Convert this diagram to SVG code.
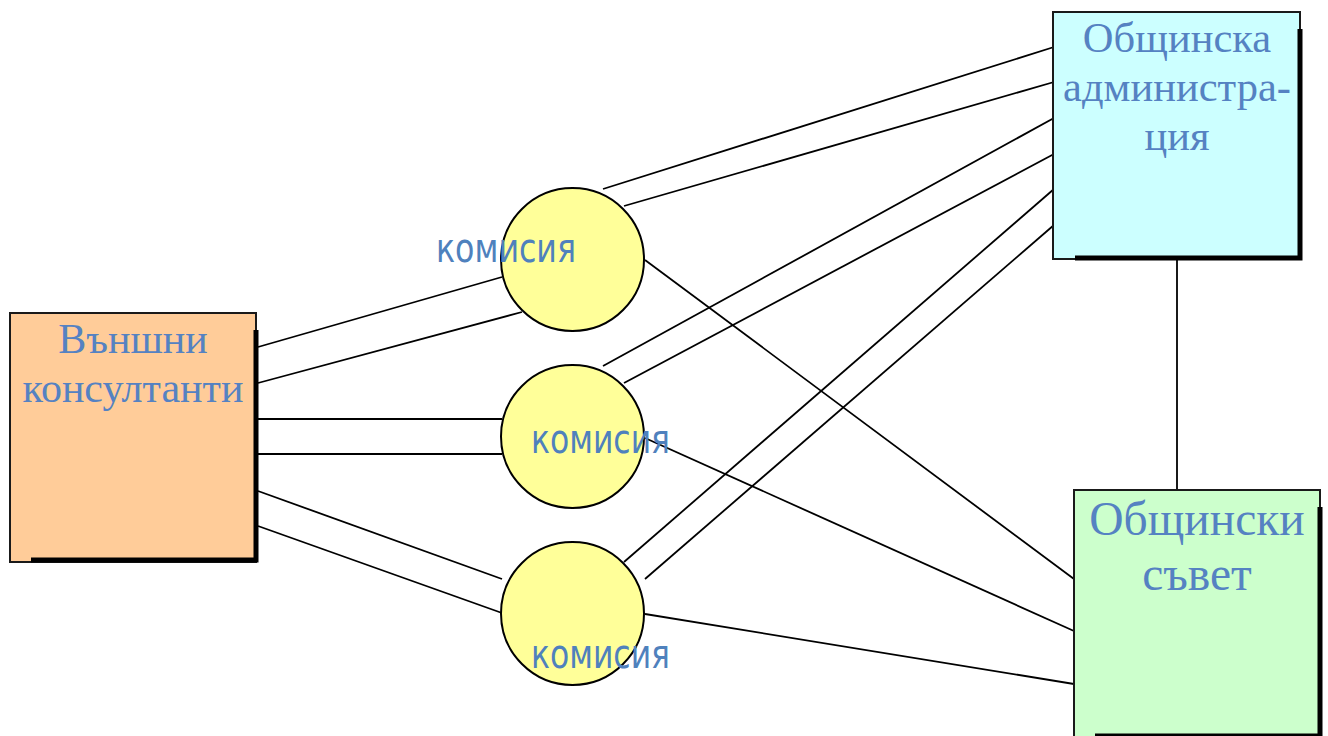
<svg xmlns="http://www.w3.org/2000/svg" width="1328" height="736" viewBox="0 0 1328 736">
  <style>
    .box { stroke: #1a1a1a; stroke-width: 2; }
    .shadow { fill: none; stroke: #000; stroke-width: 5; }
    .circ { fill: #FFFF99; stroke: #000; stroke-width: 2; }
    .conn line { stroke: #000; stroke-width: 1.8; }
    .serif { font-family: "Liberation Serif", "Times New Roman", serif; fill: #5582C2; text-anchor: middle; }
    .sans { font-family: "DejaVu Sans", "Liberation Sans", sans-serif; fill: #4F81BD; font-size: 40px; }
  </style>
  <rect width="1328" height="736" fill="#ffffff"/>
  <g id="connectors" class="conn">
    <line x1="258" y1="347" x2="502" y2="277"/>
    <line x1="258" y1="383" x2="522" y2="312"/>
    <line x1="258" y1="419" x2="502" y2="419"/>
    <line x1="258" y1="454" x2="502" y2="454"/>
    <line x1="258" y1="491" x2="502" y2="579"/>
    <line x1="258" y1="526" x2="502" y2="613"/>
    <line x1="603" y1="189" x2="1054" y2="47"/>
    <line x1="624" y1="206" x2="1054" y2="82"/>
    <line x1="603" y1="366" x2="1054" y2="118"/>
    <line x1="624" y1="383" x2="1054" y2="154"/>
    <line x1="624" y1="562" x2="1054" y2="189"/>
    <line x1="645" y1="579" x2="1054" y2="225"/>
    <line x1="645" y1="260" x2="1074" y2="579"/>
    <line x1="645" y1="438" x2="1074" y2="631"/>
    <line x1="645" y1="614" x2="1074" y2="684"/>
    <line x1="1177" y1="260" x2="1177" y2="490"/>
  </g>
  <g id="vanshni">
    <rect class="box" x="10" y="313" width="246" height="249" fill="#FFCC99"/>
    <polyline class="shadow" points="256,330 256,560 31,560"/>
    <text class="serif" x="133" y="353" font-size="42">Външни</text>
    <text class="serif" x="133" y="402" font-size="42">консултанти</text>
  </g>
  <g id="admin">
    <rect class="box" x="1053" y="12" width="247" height="247" fill="#CCFFFF"/>
    <polyline class="shadow" points="1300,29 1300,258 1075,258"/>
    <text class="serif" x="1177" y="52" font-size="42.5">Общинска</text>
    <text class="serif" x="1177" y="101" font-size="42.5">администра-</text>
    <text class="serif" x="1177" y="150" font-size="42.5">ция</text>
  </g>
  <g id="savet">
    <rect class="box" x="1074" y="490" width="246" height="250" fill="#CCFFCC"/>
    <polyline class="shadow" points="1320,507 1320,736 1095,736"/>
    <text class="serif" x="1197" y="535" font-size="47.5">Общински</text>
    <text class="serif" x="1197" y="590" font-size="47.5">съвет</text>
  </g>
  <g id="komisia1">
    <circle class="circ" cx="572.5" cy="259.5" r="71.5"/>
    <text class="sans" x="436" y="262" textLength="140" lengthAdjust="spacingAndGlyphs">комисия</text>
  </g>
  <g id="komisia2">
    <circle class="circ" cx="572.5" cy="436.5" r="71.5"/>
    <text class="sans" x="531" y="453" textLength="139" lengthAdjust="spacingAndGlyphs">комисия</text>
  </g>
  <g id="komisia3">
    <circle class="circ" cx="572.5" cy="613.5" r="71.5"/>
    <text class="sans" x="531" y="668" textLength="139" lengthAdjust="spacingAndGlyphs">комисия</text>
  </g>
</svg>
